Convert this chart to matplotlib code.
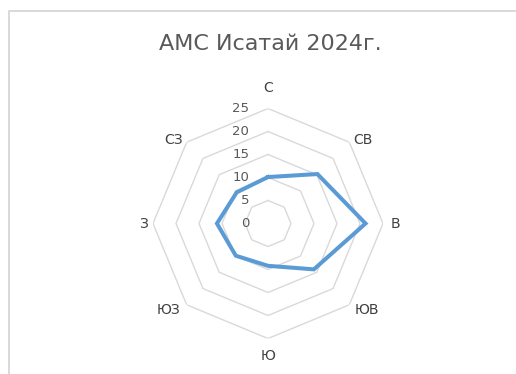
import numpy as np
import matplotlib
matplotlib.use("Agg")
import matplotlib.pyplot as plt
from matplotlib.lines import Line2D

plt.rcParams['font.family'] = ['DejaVu Sans']

# Wind direction frequencies, %
directions = ["С", "СВ", "В", "ЮВ", "Ю", "ЮЗ", "З", "СЗ"]
frequency = [10.1, 15.2, 21.2, 14.1, 9.2, 9.9, 11.1, 9.6]
ring_values = [5, 10, 15, 20, 25]
ring_labels = ["0", "5", "10", "15", "20", "25"]
title = "АМС Исатай 2024г."

W, H, DPI = 516, 374, 100
fig = plt.figure(figsize=(W / DPI, H / DPI), dpi=DPI)
fig.patch.set_facecolor("white")

# chart-area frame (top and left edges visible)
fig.add_artist(Line2D([8.5 / W, 8.5 / W, 1.0], [0.0, 1 - 11 / H, 1 - 11 / H],
                      transform=fig.transFigure, color="#d9d9d9", lw=1.4))

cx, cy, R = 268, 223.5, 115
ax = fig.add_axes([(cx - R) / W, (H - cy - R) / H, 2 * R / W, 2 * R / H],
                  projection="polar")
ax.set_theta_zero_location("N")
ax.set_theta_direction(-1)
ax.set_ylim(0, ring_values[-1])
ax.set_axis_off()

n = len(directions)
theta = np.linspace(0, 2 * np.pi, n, endpoint=False)
theta_c = np.append(theta, theta[0])

# octagonal grid rings
for rv in ring_values:
    ax.plot(theta_c, [rv] * (n + 1), color="#d9d9d9", lw=1.0, zorder=1)

# data polygon
vals = np.append(frequency, frequency[0])
ax.plot(theta_c, vals, color="#5b9bd5", lw=2.9, solid_joinstyle="miter",
        zorder=3)

# radial value labels along the north spoke
for i, lab in enumerate(ring_labels):
    ax.annotate(lab, xy=(0, i * 5), xytext=(-13.5, 0), textcoords="offset points",
                ha="right", va="center", fontsize=9.5, color="#595959")

# direction labels around the chart (pixel offsets from centre)
label_offsets = [(0, 135), (95, 83.5), (127, 0), (98.7, -86.5),
                 (0, -132), (-99.7, -86.5), (-124.7, 0), (-94.7, 83.5)]
px2pt = 72 / DPI
for lab, (dx, dy) in zip(directions, label_offsets):
    ax.annotate(lab, xy=(0, 0), xytext=(dx * px2pt, dy * px2pt),
                textcoords="offset points", ha="center", va="center",
                fontsize=10, color="#404040")

fig.text(270 / W, 1 - 44 / H, title, ha="center", va="center",
         fontsize=16, color="#595959")

fig.savefig("out.png", dpi=DPI, facecolor="white")
